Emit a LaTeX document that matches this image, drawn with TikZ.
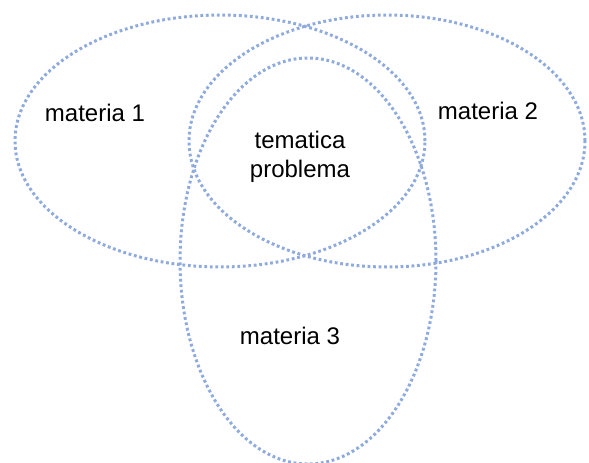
\documentclass[tikz,border=0pt]{standalone}
\usepackage{fontspec}
\setmainfont{Liberation Sans}
\usepackage{xcolor}
\usetikzlibrary{positioning}

\definecolor{dotblue}{HTML}{8FAADC}

\tikzset{
    setring/.style={draw=dotblue, line width=3pt, dash pattern=on 2.8pt off 2.7pt},
    setlabel/.style={font=\fontsize{24}{29}\selectfont, align=center, inner sep=0pt}
}

\begin{document}
\begin{tikzpicture}[x=1pt, y=-1pt]
    % Canvas
    \useasboundingbox (0,0) rectangle (589,463);
    \clip (0,0) rectangle (589,463);

    % Parameters
    \def\ringRx{205pt} % horizontal half-axis, rings 1 and 2
    \def\ringRy{126pt} % vertical half-axis, rings 1 and 2

    % Subject rings
    \draw[setring] (220,141) ellipse [x radius=\ringRx, y radius=\ringRy];
    \draw[setring] (387,141) ellipse [x radius=198pt, y radius=\ringRy];
    \draw[setring] (308,261) ellipse [x radius=128pt, y radius=203pt];

    % Labels
    \node[setlabel] (m1) at (95,113) {materia 1};
    \node[setlabel] (m2) at (488,111) {materia 2};
    \node[setlabel] (tema) at (300,157) {tematica\\problema};
    \node[setlabel] (m3) at (290,336) {materia 3};
\end{tikzpicture}
\end{document}
